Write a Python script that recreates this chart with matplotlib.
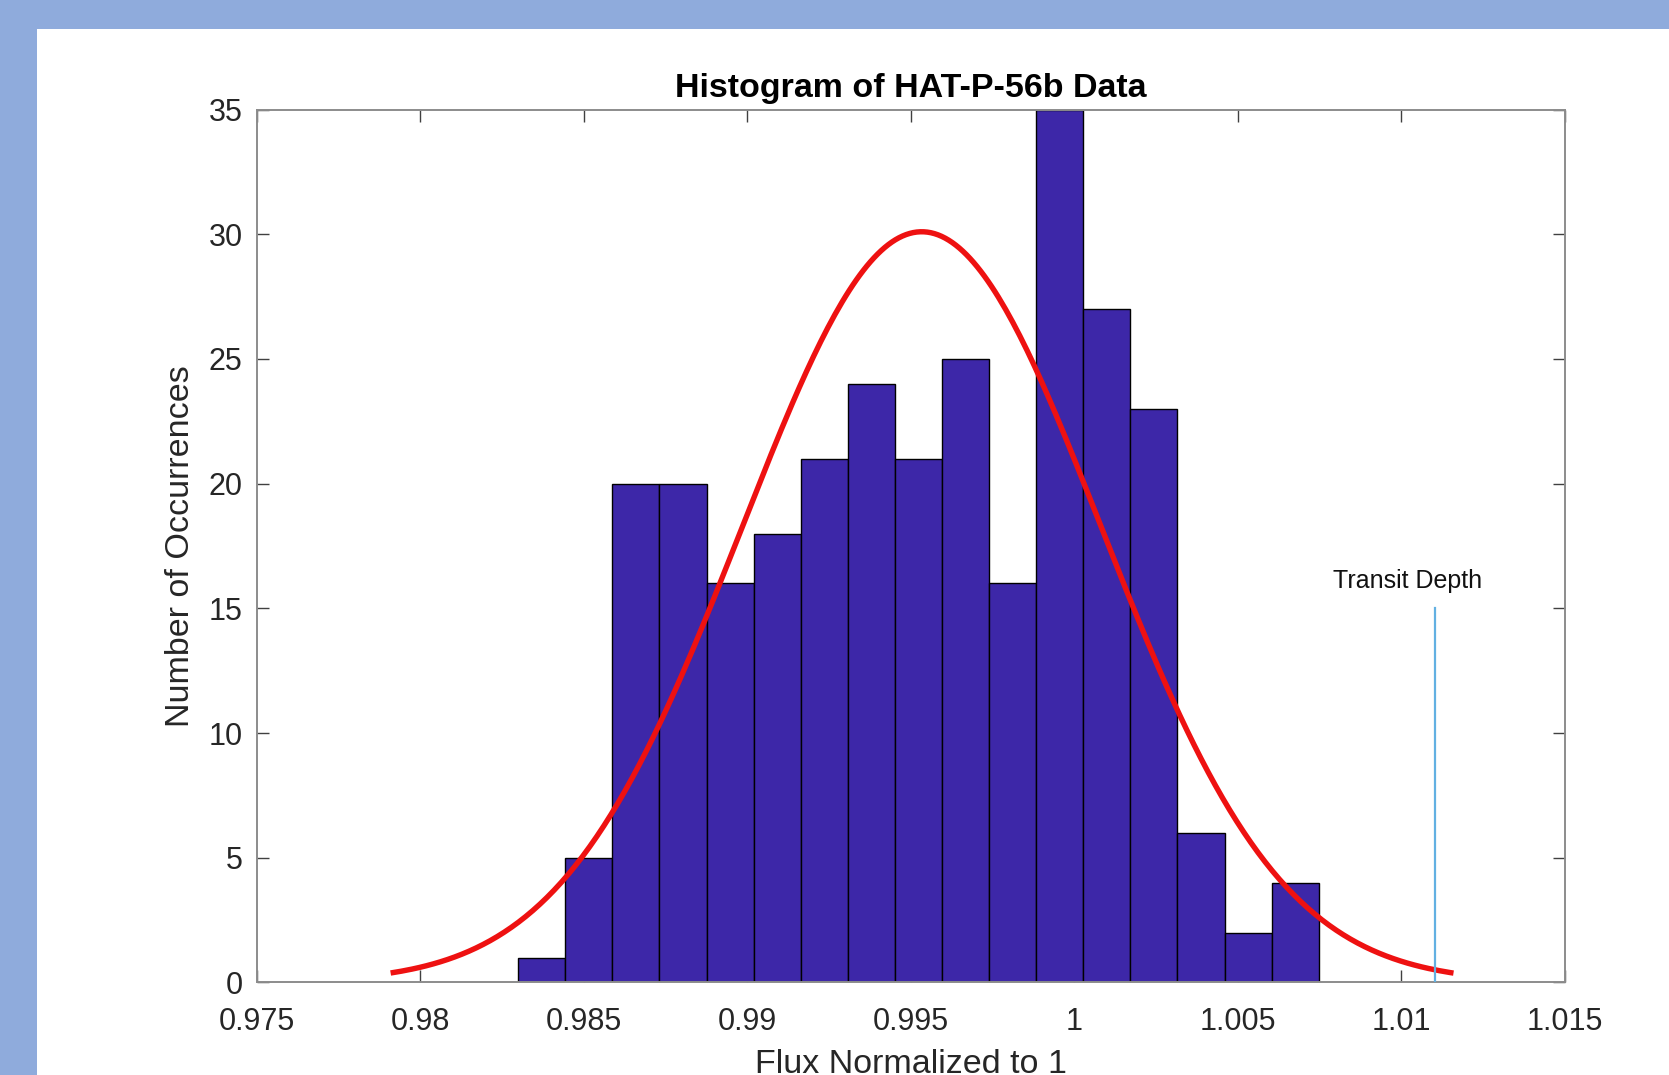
import numpy as np
import matplotlib
matplotlib.use("Agg")
import matplotlib.pyplot as plt
from matplotlib.patches import Rectangle

plt.rcParams['font.family'] = ['Liberation Sans', 'DejaVu Sans']

# histogram
bin_start = 0.98300
bin_width = 0.00144
counts = [1, 5, 20, 20, 16, 18, 21, 24, 21, 25, 16, 35, 27, 23, 6, 2, 4]

# normal fit (histfit style), parameters
fit_mu = 0.99534
fit_sigma = 0.00549
fit_peak = 30.1
fit_lo = 0.9791
fit_hi = 1.0116

# transit depth marker
transit_x = 1.01104
transit_top = 15.0
transit_label = "Transit Depth"

xticks = [0.975, 0.98, 0.985, 0.99, 0.995, 1.0, 1.005, 1.01, 1.015]
xticklabels = ["0.975", "0.98", "0.985", "0.99", "0.995", "1", "1.005", "1.01", "1.015"]
yticks = [0, 5, 10, 15, 20, 25, 30, 35]

fig = plt.figure(figsize=(16.69, 10.75), dpi=100)
fig.patch.set_facecolor('#8FABDC')
# white panel, blue border only on top and left
fig.patches.append(Rectangle((37 / 1669, 0), 1, 1 - 29 / 1075,
                             transform=fig.transFigure, facecolor='white',
                             edgecolor='none', zorder=-10))

ax = fig.add_axes([0.1537, 0.0861, 0.7838, 0.8120])
ax.set_facecolor('white')

edges = bin_start + bin_width * np.arange(len(counts) + 1)
ax.bar(edges[:-1], counts, width=bin_width, align='edge',
       color='#3D27A8', edgecolor='black', linewidth=1.0, zorder=2)

xs = np.linspace(fit_lo, fit_hi, 300)
ys = fit_peak * np.exp(-0.5 * ((xs - fit_mu) / fit_sigma) ** 2)
ax.plot(xs, ys, color='#EE1111', linewidth=3.9, zorder=3, solid_capstyle='butt')

ax.plot([transit_x, transit_x], [0, transit_top], color='#62B0E2', linewidth=1.6, zorder=3)
ax.text(1.0102, 16.1, transit_label, fontsize=18, ha='center', va='center', color='#111111')

ax.set_xlim(0.975, 1.015)
ax.set_ylim(0, 35)
ax.set_xticks(xticks)
ax.set_xticklabels(xticklabels)
ax.set_yticks(yticks)

for s in ax.spines.values():
    s.set_color('#8C8C8C')
    s.set_linewidth(1.4)

ax.tick_params(direction='in', length=8.5, width=1.0, color='#404040',
               labelsize=22, labelcolor='#262626', top=True, right=True)
ax.tick_params(axis='x', pad=18)
ax.tick_params(axis='y', pad=10)

ax.set_title("Histogram of HAT-P-56b Data", fontsize=24.5, fontweight='bold', pad=9)
ax.set_ylabel("Number of Occurrences", fontsize=24.5, color='#262626')
ax.set_xlabel("Flux Normalized to 1", fontsize=24.5, color='#262626')
ax.yaxis.set_label_coords(-0.058, 0.5)
ax.xaxis.set_label_coords(0.5, -0.094)
ax.xaxis.label.set_va('center')
ax.yaxis.label.set_va('center')

fig.savefig("out.png", dpi=100, facecolor=fig.get_facecolor())
